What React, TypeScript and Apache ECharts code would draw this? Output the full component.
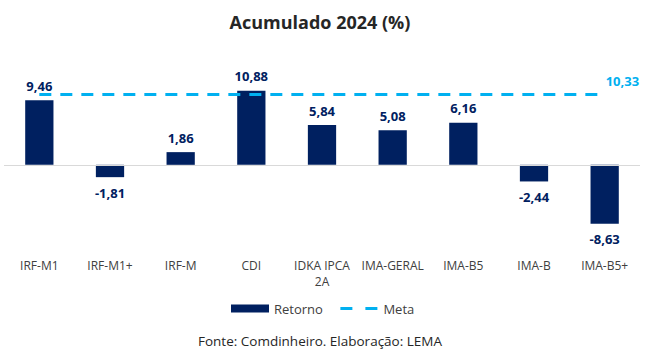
import React, { useEffect, useRef } from "react";
import * as echarts from "echarts";

const categories = ["IRF-M1", "IRF-M1+", "IRF-M", "CDI", "IDKA IPCA\n2A", "IMA-GERAL", "IMA-B5", "IMA-B", "IMA-B5+"];
const retorno = [9.46, -1.81, 1.86, 10.88, 5.84, 5.08, 6.16, -2.44, -8.63];
const meta = [10.33, 10.33, 10.33, 10.33, 10.33, 10.33, 10.33, 10.33, 10.33];

const NAVY = "#002060";
const CYAN = "#00B0F0";
const FONT = "'Open Sans', 'Noto Sans', sans-serif";

const fmt = (v: number) => v.toFixed(2).replace(".", ",");

export default function App() {
  const ref = useRef<HTMLDivElement>(null);
  useEffect(() => {
    if (!ref.current) return;
    const chart = echarts.init(ref.current, null, { renderer: "svg" });
    chart.setOption({
      animation: false,
      backgroundColor: "#ffffff",
      textStyle: { fontFamily: FONT },
      graphic: [
        {
          type: "text",
          x: 320,
          y: 22,
          style: {
            text: "Acumulado 2024 (%)",
            fontFamily: FONT,
            fontSize: 18,
            fontWeight: "bold",
            fill: "#262626",
            textAlign: "center",
            textVerticalAlign: "middle",
          },
        },
        {
          type: "text",
          x: 320,
          y: 341,
          style: {
            text: "Fonte: Comdinheiro. Elaboração: LEMA",
            fontFamily: FONT,
            fontSize: 13.5,
            fill: "#262626",
            textAlign: "center",
            textVerticalAlign: "middle",
          },
        },
      ],
      legend: {
        left: 231,
        top: 302,
        padding: 0,
        itemWidth: 38,
        itemHeight: 8,
        itemGap: 16,
        textStyle: { fontFamily: FONT, fontSize: 13, color: "#404040" },
        data: [
          { name: "Retorno", icon: "rect" },
          {
            name: "Meta",
            itemStyle: { opacity: 0 },
            lineStyle: { color: CYAN, width: 3, type: [12, 13] },
          },
        ],
      },
      grid: { left: 4, right: 12, top: 83, bottom: 120 },
      xAxis: {
        type: "category",
        data: categories,
        axisLine: { show: false },
        axisTick: { show: false },
        axisLabel: {
          interval: 0,
          margin: 24,
          fontFamily: FONT,
          fontSize: 12,
          color: "#404040",
          lineHeight: 16,
        },
      },
      yAxis: {
        type: "value",
        min: -10,
        max: 12,
        show: false,
        splitLine: { show: false },
      },
      series: [
        {
          name: "Retorno",
          type: "bar",
          barWidth: "40%",
          itemStyle: { color: NAVY },
          data: retorno.map((v) => ({
            value: v,
            label: v >= 0 ? { position: "top", distance: 8 } : { position: "bottom", distance: 9 },
          })),
          label: {
            show: true,
            formatter: (p: any) => fmt(p.value),
            fontFamily: FONT,
            fontSize: 13,
            fontWeight: "bold",
            color: NAVY,
          },
          markLine: {
            silent: true,
            symbol: "none",
            label: { show: false },
            lineStyle: { color: "#d9d9d9", width: 1, type: "solid" },
            data: [{ yAxis: 0 }],
          },
          z: 2,
        },
        {
          name: "Meta",
          type: "line",
          data: meta,
          symbol: "none",
          showSymbol: false,
          lineStyle: { color: CYAN, width: 3, type: [12, 9] },
          itemStyle: { color: CYAN },
          endLabel: {
            show: true,
            formatter: (p: any) => fmt(p.value),
            fontFamily: FONT,
            fontSize: 13,
            fontWeight: "bold",
            color: CYAN,
            offset: [-7, -13],
          },
          z: 3,
        },
      ],
    });
    return () => chart.dispose();
  }, []);
  return (
    <div
      ref={ref}
      style={{ position: "fixed", left: 0, top: 0, width: 652, height: 353 }}
    />
  );
}
